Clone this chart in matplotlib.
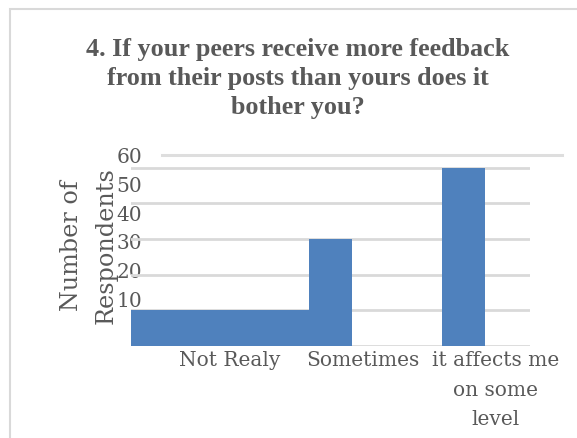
import matplotlib
matplotlib.use("Agg")
import matplotlib.pyplot as plt
from matplotlib.patches import Rectangle
import numpy as np

# Survey responses
categories = ["Not Realy", "Sometimes", "it affects me\non some\nlevel"]
respondents = [10, 30, 50]
grid_values = [0, 10, 20, 30, 40, 50]
tick_labels = ["0", "10", "20", "30", "40", "50", "60"]

title = ("4. If your peers receive more feedback\n"
         "from their posts than yours does it\n"
         "bother you?")

W, H, DPI = 577, 439, 100
TEXT = "#595959"
BAR = "#4F81BD"
GRID = "#D9D9D9"
TICK_FONT = "DejaVu Serif"

fig = plt.figure(figsize=(W / DPI, H / DPI), dpi=DPI)


def px_box(left, top, right, bottom):
    return [left / W, 1 - bottom / H, (right - left) / W, (bottom - top) / H]


# chart frame
fig.patches.append(Rectangle((10 / W, -0.1), 1.2, 1 - 10 / H + 0.1,
                             transform=fig.transFigure, fill=False,
                             edgecolor="#D9D9D9", lw=1.5))

y_top = 57.0
ax_px = px_box(131, 346.7 - y_top * 3.56, 530, 346.7)

# value-axis labels sit on their own scale
lab = fig.add_axes(ax_px, frameon=False)
lab.set_zorder(0)
lab_lo = (0 - 5.25) / 0.8067
lab_hi = (y_top - 5.25) / 0.8067
lab.set_ylim(lab_lo, lab_hi)
lab.set_xlim(0, 1)
lab.set_xticks([])
tv = [int(t) for t in tick_labels]
lab.set_yticks(tv)
lab.set_yticklabels(tick_labels, fontsize=14.5, color=TEXT, family=TICK_FONT)
lab.tick_params(axis="y", length=0, pad=-8)
lab.axhline(tv[-1], xmin=0.078, xmax=1.08, color="#DEDEDE", lw=2.2, clip_on=False)
lab.set_ylabel("Number of\nRespondents", fontsize=17.2, color=TEXT,
               family=TICK_FONT, labelpad=-1, linespacing=1.65)

ax = fig.add_axes(ax_px)
ax.set_zorder(1)
ax.patch.set_visible(False)
for s in ax.spines.values():
    s.set_visible(False)

x = np.arange(len(categories))
w = 0.316
lefts = x - w / 2
widths = np.full(len(x), w)
# first column runs from the axis edge up to the second one
lefts[0] = -0.5
widths[0] = (x[1] - w / 2) - (-0.5)
ax.bar(lefts, respondents, width=widths, align="edge", color=BAR, zorder=2)

ax.set_xlim(-0.5, len(categories) - 0.5)
ax.set_ylim(0, y_top)
ax.set_yticks(grid_values)
ax.set_yticklabels([])
ax.yaxis.grid(True, color=GRID, lw=2)
ax.set_axisbelow(True)
ax.tick_params(axis="y", length=0)

ax.set_xticks(x + 0.24)
ax.set_xticklabels(categories, fontsize=14.5, color=TEXT, family=TICK_FONT,
                   linespacing=1.72)
ax.tick_params(axis="x", length=0, pad=3)

fig.text(298 / W, 1 - 38 / H, title, ha="center", va="top", fontsize=18.8,
         fontweight="bold", color=TEXT, family="Liberation Serif",
         linespacing=1.33)

fig.savefig("out.png", dpi=DPI)
